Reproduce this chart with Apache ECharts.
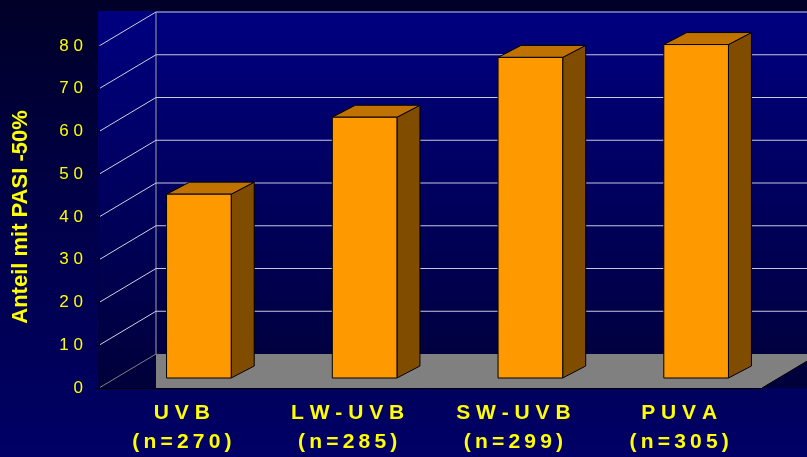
<!DOCTYPE html>
<html>
<head>
<meta charset="utf-8">
<script src="https://cdn.jsdelivr.net/npm/echarts@6/dist/echarts.min.js"></script>
<style>
html, body { margin: 0; padding: 0; }
#main { width: 807px; height: 457px; background: linear-gradient(to bottom, #000028 0%, #00004a 50%, #000066 100%); }
</style>
</head>
<body>
<div id="main"></div>
<script>
// data
var categories = ['UVB', 'LW-UVB', 'SW-UVB', 'PUVA'];
var sampleSizes = [270, 285, 299, 305];
var pasiValues = [43, 61, 75, 78];
var yTicks = [0, 10, 20, 30, 40, 50, 60, 70, 80];

// 3d look: offset of back wall and of the bars (pixels)
var WALL_DX = 57, WALL_DY = -34;
var BAR_FX = 17, BAR_FY = -10;
var BAR_DX = 23, BAR_DY = -12;
var FONT = 'Liberation Sans, Arial, sans-serif';

// spread the letters like the slide does
function spaced(s, gap) {
    return String(s).split('').join(gap || ' ');
}

/**
 * walls, floor and grid lines, one item per tick
 */
function renderWalls(params, api) {
    var cs = params.coordSys;
    var left = cs.x, right = cs.x + cs.width, bottom = cs.y + cs.height;
    var v = api.value(1);
    var y = api.coord([0, v])[1];
    var children = [];
    if (v === yTicks[0]) {
        children.push({
            type: 'rect',
            shape: { x: left - 1, y: cs.y + WALL_DY - 1, width: cs.width + WALL_DX + 1, height: cs.height - WALL_DY + 1 },
            style: {
                fill: new echarts.graphic.LinearGradient(0, 0, 0, 1, [
                    { offset: 0, color: '#000080' },
                    { offset: 1, color: '#00003a' }
                ])
            }
        });
        children.push({
            type: 'polygon',
            shape: { points: [[left + WALL_DX, bottom + WALL_DY], [right + WALL_DX, bottom + WALL_DY], [right, bottom], [left + WALL_DX, bottom]] },
            style: { fill: '#808080' }
        });
        children.push({
            type: 'line',
            shape: { x1: right, y1: bottom, x2: right + WALL_DX, y2: bottom + WALL_DY },
            style: { stroke: '#000', lineWidth: 1 }
        });
        children.push({
            type: 'line',
            shape: { x1: left + WALL_DX, y1: cs.y + WALL_DY, x2: left + WALL_DX, y2: bottom + WALL_DY },
            style: { stroke: '#a0a0a8', lineWidth: 1 }
        });
    }
    children.push({
        type: 'line',
        shape: { x1: left, y1: y, x2: left + WALL_DX, y2: y + WALL_DY },
        style: { stroke: v === 0 ? '#808080' : '#d0d0e0', lineWidth: 1 }
    });
    if (v !== 0) {
        children.push({
            type: 'line',
            shape: { x1: left + WALL_DX, y1: y + WALL_DY, x2: right + WALL_DX, y2: y + WALL_DY },
            style: { stroke: '#c8c8dc', lineWidth: 1 }
        });
    }
    return { type: 'group', children: children };
}

/**
 * one box per category
 */
function renderBar(params, api) {
    var i = api.value(0);
    var v = api.value(1);
    var base = api.coord([i, 0]);
    var top = api.coord([i, v]);
    var w = api.size([1, 0])[0] * 0.39;
    var x0 = base[0] + BAR_FX - w / 2, x1 = x0 + w;
    var yb = base[1] + BAR_FY, yt = top[1] + BAR_FY;
    var edge = { stroke: '#000', lineWidth: 1 };
    return {
        type: 'group',
        children: [
            {
                type: 'polygon',
                shape: { points: [[x1, yt], [x1 + BAR_DX, yt + BAR_DY], [x1 + BAR_DX, yb + BAR_DY], [x1, yb]] },
                style: Object.assign({ fill: '#7f4c00' }, edge)
            },
            {
                type: 'polygon',
                shape: { points: [[x0, yt], [x1, yt], [x1 + BAR_DX, yt + BAR_DY], [x0 + BAR_DX, yt + BAR_DY]] },
                style: Object.assign({ fill: '#c07200' }, edge)
            },
            {
                type: 'rect',
                shape: { x: x0, y: yt, width: w, height: yb - yt },
                style: Object.assign({ fill: '#ff9900' }, edge)
            }
        ]
    };
}

var chart = echarts.init(document.getElementById('main'));
var option = {
    backgroundColor: 'transparent',
    animation: false,
    grid: { left: 99, right: 45, top: 46, bottom: 69, outerBoundsMode: 'none', containLabel: false },
    xAxis: {
        type: 'category',
        data: categories,
        z: 10,
        axisLine: { lineStyle: { color: '#000', width: 1 } },
        axisTick: { length: 4, lineStyle: { color: '#000' } },
        axisLabel: {
            margin: 11,
            color: '#ffff00',
            fontFamily: FONT,
            fontWeight: 'bold',
            fontSize: 21,
            lineHeight: 29,
            formatter: function (value, idx) {
                return spaced(value) + '\n' + spaced('(n=' + sampleSizes[idx] + ')', '\u2009');
            }
        }
    },
    yAxis: {
        type: 'value',
        min: 0,
        max: 80,
        interval: 10,
        z: 10,
        name: 'Anteil mit PASI -50%',
        nameLocation: 'middle',
        nameRotate: 90,
        nameGap: 67,
        nameTextStyle: { color: '#ffff00', fontFamily: FONT, fontWeight: 'bold', fontSize: 22 },
        axisLine: { show: true, lineStyle: { color: '#000', width: 1 } },
        axisTick: { show: true, length: 4, lineStyle: { color: '#000' } },
        splitLine: { show: false },
        axisLabel: {
            margin: 16,
            color: '#ffff00',
            fontFamily: FONT,
            fontSize: 17,
            padding: [5, 0, 0, 0],
            formatter: function (v) { return spaced(v); }
        }
    },
    series: [
        {
            type: 'custom',
            name: 'walls',
            z: 1,
            silent: true,
            renderItem: renderWalls,
            encode: { x: 0, y: 1 },
            data: yTicks.map(function (t) { return [0, t]; })
        },
        {
            type: 'custom',
            name: 'PASI -50%',
            z: 3,
            renderItem: renderBar,
            encode: { x: 0, y: 1 },
            data: pasiValues.map(function (v, i) { return [i, v]; })
        }
    ]
};
chart.setOption(option);
</script>
</body>
</html>
